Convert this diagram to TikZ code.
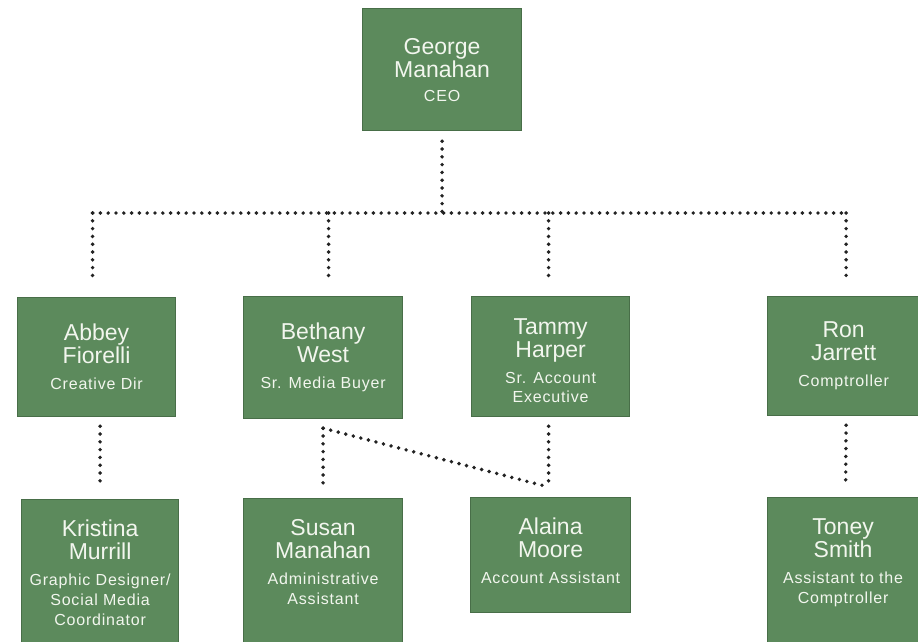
\documentclass[tikz,border=0pt]{standalone}
\usepackage{fontspec}
\setmainfont{Liberation Sans}
\newfontfamily\titlefont[LetterSpace=5]{Liberation Sans}
\definecolor{boxgreen}{RGB}{92,138,92}
\definecolor{boxedge}{RGB}{72,110,72}
\definecolor{dotc}{RGB}{34,34,34}
\definecolor{txtc}{RGB}{242,246,238}
\newcommand{\nmf}{\fontsize{23}{23}\selectfont}
\newcommand{\ttf}{\titlefont\fontsize{16}{19}\selectfont}
\tikzset{
  box/.style={fill=boxgreen, draw=boxedge, line width=1.2pt, inner sep=0pt, anchor=north west},
  lbl/.style={text=txtc, align=center, inner sep=0pt, font=\nmf},
  dots/.style={draw=dotc, line width=3.9pt, line cap=round, dash pattern=on 0pt off 7.8pt},
}
\begin{document}
\begin{tikzpicture}[x=1pt,y=-1pt]
\useasboundingbox (0,0) rectangle (918,641);
% boxes
\node[box, minimum width=159pt, minimum height=122pt] (ceo) at (362,8) {};
\node[box, minimum width=158pt, minimum height=119pt] (abbey) at (17,297) {};
\node[box, minimum width=159pt, minimum height=122pt] (beth) at (243,296) {};
\node[box, minimum width=158pt, minimum height=120pt] (tammy) at (471,296) {};
\node[box, minimum width=152pt, minimum height=119pt] (ron) at (767,296) {};
\node[box, minimum width=157pt, minimum height=160pt] (krist) at (21,499) {};
\node[box, minimum width=159pt, minimum height=160pt] (susan) at (243,498) {};
\node[box, minimum width=160pt, minimum height=115pt] (alaina) at (470,497) {};
\node[box, minimum width=151pt, minimum height=160pt] (toney) at (767,497) {};
% labels
\node[lbl] (tceo) at (ceo.center) {George\\Manahan\\[1pt]{\ttf CEO}};
\node[lbl] (tabbey) at (abbey.center) {Abbey\\Fiorelli\\[3pt]{\ttf Creative Dir}};
\node[lbl] (tbeth) at (beth.center) {Bethany\\West\\[3pt]{\ttf Sr. Media Buyer}};
\node[lbl] (ttammy) at ([yshift=-4pt]tammy.center) {Tammy\\Harper\\[3pt]{\ttf Sr. Account}\\[-4pt]{\ttf Executive}};
\node[lbl] (tron) at (ron.center) {Ron\\Jarrett\\[3pt]{\ttf Comptroller}};
\node[lbl, anchor=north] (tkrist) at ([yshift=-21pt]krist.north) {Kristina\\Murrill\\[3pt]{\ttf Graphic Designer/}\\[-3pt]{\ttf Social Media}\\[-3pt]{\ttf Coordinator}};
\node[lbl, anchor=north] (tsusan) at ([yshift=-21pt]susan.north) {Susan\\Manahan\\[3pt]{\ttf Administrative}\\[-3pt]{\ttf Assistant}};
\node[lbl, anchor=north] (talaina) at ([yshift=-21pt]alaina.north) {Alaina\\Moore\\[3pt]{\ttf Account Assistant}};
\node[lbl, anchor=north] (ttoney) at ([yshift=-21pt]toney.north) {Toney\\Smith\\[3pt]{\ttf Assistant to the}\\[-3pt]{\ttf Comptroller}};
% connectors
\coordinate (bus) at (0,213);
\draw[dots] ([yshift=-10pt]ceo.south) -- (ceo.south |- bus);
\draw[dots] ([xshift=-4pt]abbey.north |- bus) -- ([xshift=2.5pt]ron.north |- bus);
\draw[dots] ([xshift=-4pt]abbey.north |- bus) -- ([xshift=-4pt,yshift=14pt]abbey.north);
\draw[dots] ([xshift=5.5pt]beth.north |- bus) -- ([xshift=5.5pt,yshift=14pt]beth.north);
\draw[dots] ([xshift=-2pt]tammy.north |- bus) -- ([xshift=-2pt,yshift=14pt]tammy.north);
\draw[dots] ([xshift=2.5pt]ron.north |- bus) -- ([xshift=2.5pt,yshift=14pt]ron.north);
\draw[dots] ([yshift=-9pt]abbey.south -| krist.north) -- ([yshift=11pt]krist.north);
\draw[dots] ([yshift=-9pt]beth.south -| susan.north) -- ([yshift=11pt]susan.north);
\draw[dots] ([yshift=-9pt]beth.south -| susan.north) -- ([xshift=-2pt,yshift=10pt]alaina.north);
\draw[dots] ([xshift=-2pt,yshift=-9pt]tammy.south) -- ([xshift=-2pt,yshift=10pt]alaina.north);
\draw[dots] ([xshift=2.5pt,yshift=-9pt]ron.south) -- ([xshift=2.5pt,yshift=11pt]toney.north);
\end{tikzpicture}
\end{document}
